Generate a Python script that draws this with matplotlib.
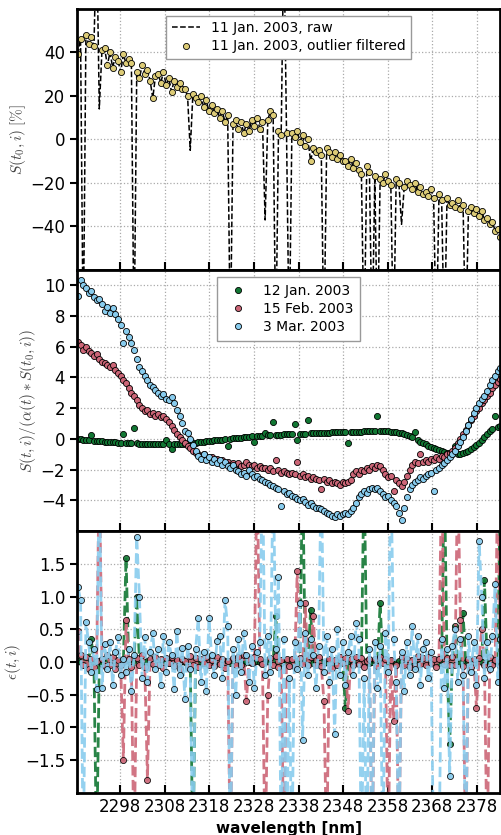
import numpy as np
import matplotlib
matplotlib.use('Agg')
import matplotlib.pyplot as plt

plt.rcParams['mathtext.fontset'] = 'cm'

# wavelength grid of the detector pixels
wavelength = 2288.5 + 0.6 * np.arange(160)

# 11 Jan. 2003, raw signal [%] (outliers included)
raw_jan11 = [
    39, 46, -95, 48, 44, 47, 43, 95, 14, 41,
    42, 34, 40, 33, 38, 36, 31, 39, 35, 37,
    35, -95, 31, 28, 34, 30, 32, 27, 19, 29,
    30, 26, 31, 25, 28, 22, 27, 24, 26, 23,
    23, 20, -5, 21, 19, 17, 20, 15, 18, 13,
    16, 12, 14, 10, 13, 8, 11, -95, 7, 9,
    5, 8, 3, 7, 4, 9, 6, 10, 5, 8,
    -37, 9, 13, 11, -95, 4, 2, 95, 3, -95,
    3, 1, 4, -1, 2, -3, 0, -10, -4, -6,
    -5, -7, -95, -4, -6, -8, -6, -9, -7, -10,
    -10, -12, -9, -13, -11, -14, -16, -95, -12, -15,
    -95, -17, -95, -18, -20, -16, -19, -21, -95, -18,
    -20, -39, -22, -19, -21, -23, -20, -24, -22, -25,
    -24, -26, -23, -27, -95, -25, -28, -95, -27, -30,
    -29, -31, -28, -32, -30, -95, -33, -31, -34, -32,
    -35, -33, -37, -36, -39, -38, -42, -41, -45, -47,
]
outlier_idx = [2, 7, 8, 21, 42, 57, 70, 74, 77, 79, 92, 107,
               110, 112, 118, 121, 134, 137, 145]

# S(t,i) / (alpha(t) * S(t0,i))
ratio_jan12 = [
    0.0, -0.02, -0.05, -0.07, -0.1, 0.26, -0.12, -0.14, -0.15, -0.17,
    -0.18, -0.2, -0.21, -0.22, -0.24, -0.25, -0.26, 0.3, -0.27, -0.28,
    -0.29, 0.7, -0.3, -0.31, -0.32, -0.33, -0.33, -0.34, -0.34, -0.35,
    -0.35, -0.35, -0.35, -0.07, -0.35, -0.65, -0.34, -0.34, -0.33, -0.32,
    -0.31, -0.3, -0.29, -0.27, -0.25, -0.23, -0.21, -0.19, -0.17, -0.15,
    -0.13, -0.11, -0.09, -0.07, -0.05, -0.03, -0.47, 0.0, 0.02, 0.04,
    0.06, 0.08, 0.1, 0.12, 0.13, 0.15, -0.22, 0.17, 0.18, 0.2,
    0.4, 0.22, 0.23, 1.1, 0.25, 0.26, 0.27, 0.28, 0.29, 0.3,
    0.31, 0.93, -0.05, 0.32, 0.33, 0.34, 1.2, 0.35, 0.36, 0.37,
    0.38, 0.38, 0.39, 0.4, 0.4, 0.41, 0.42, 0.42, 0.43, 0.43,
    0.44, -0.3, 0.45, 0.45, 0.46, 0.47, 0.47, 0.48, 0.48, 0.49,
    0.5, 0.5, 1.46, 0.51, 0.5, 0.5, 0.49, 0.47, 0.45, 0.42,
    0.4, 0.36, 0.31, 0.25, 0.18, 0.1, 0.45, -0.1, -0.2, -0.28,
    -0.36, -0.44, -0.52, -0.6, -0.67, -0.74, -0.8, -0.86, -0.91, -0.95,
    -0.97, -0.47, -0.98, -0.96, -0.92, -0.86, -0.78, -0.68, -0.56, -0.42,
    -0.26, -0.08, 0.12, 0.32, 0.5, 0.64, 1.5, 0.78, 0.82, 0.84,
]
ratio_feb15 = [
    6.3, 6.1, 5.8, 6.0, 5.7, 5.6, 5.4, 5.5, 5.2, 5.0,
    4.9, 4.8, 4.7, 4.8, 4.5, 4.3, 4.1, 3.8, 3.6, 3.3,
    3.0, 2.8, 2.5, 2.2, 2.0, 1.8, 1.9, 1.6, 1.7, 1.5,
    1.6, 1.4, 1.5, 1.3, 1.1, 0.8, 0.6, 0.3, 0.1, -0.1,
    -0.3, -0.5, -0.6, -0.8, -0.9, -1.0, -1.1, -1.0, -1.2, -1.3,
    -1.2, -1.4, -1.3, -1.5, -1.4, -1.6, -1.5, -1.7, -1.6, -1.7,
    -1.6, -1.8, -1.7, -1.5, -1.7, -1.8, -1.7, -1.9, -1.8, -1.9,
    -1.9, -2.0, -1.9, -2.1, -1.4, -2.0, -2.2, -2.1, -2.2, -2.3,
    -2.2, -2.3, -1.5, -2.4, -2.3, -2.5, -2.4, -2.6, -2.5, -2.6,
    -2.7, -3.3, -2.6, -2.8, -2.7, -2.9, -2.8, -2.9, -3.0, -2.8,
    -2.9, -2.8, -2.7, -2.3, -2.1, -2.3, -2.0, -2.1, -1.9, -2.0,
    -1.8, -1.9, -1.7, -1.8, -2.0, -2.3, -2.5, -2.4, -3.4, -2.7,
    -2.9, -3.1, -2.8, -2.4, -2.0, -1.7, -1.5, -1.6, -1.0, -1.5,
    -1.4, -1.5, -1.3, -1.4, -1.2, -1.3, -1.1, -1.2, -1.0, -0.9,
    -0.8, -0.6, -0.3, 0.0, 0.3, 0.6, 0.9, 1.2, 1.5, 1.8,
    2.0, 2.3, 2.5, 2.8, 3.0, 3.3, 3.5, 3.7, 3.9, 4.0,
]
ratio_mar03 = [
    9.3, 10.3, 10.0, 9.8, 9.5, 9.6, 9.2, 9.0, 9.1, 8.8,
    8.3, 8.6, 8.2, 8.5, 8.1, 7.8, 7.4, 6.2, 7.0, 6.6,
    6.2, 5.8, 5.2, 4.7, 4.4, 4.1, 3.8, 3.5, 3.4, 3.2,
    3.0, 2.8, 2.9, 2.6, 2.5, 2.7, 2.3, 1.9, 1.5, 1.0,
    0.5, 0.37, 0.0, -0.4, -0.8, -1.1, -1.3, -1.0, -1.4, -1.2,
    -1.5, -1.3, -1.6, -1.4, -1.7, -1.5, -1.8, -1.9, -1.7, -2.0,
    -2.1, -2.3, -2.2, -2.4, -2.0, -2.3, -2.5, -2.4, -2.6, -2.7,
    -2.8, -2.9, -3.0, -3.1, -3.2, -3.3, -4.4, -3.4, -3.6, -3.5,
    -3.7, -3.8, -3.9, -4.0, -3.9, -4.1, -4.3, -4.2, -4.4, -4.5,
    -4.5, -4.6, -4.7, -4.8, -4.9, -5.0, -5.1, -4.9, -5.0, -4.9,
    -4.8, -4.9, -4.7, -4.5, -4.2, -3.8, -3.6, -3.4, -3.5, -3.3,
    -3.2, -3.3, -3.2, -3.4, -3.6, -3.8, -3.7, -4.0, -4.2, -4.4,
    -4.8, -5.3, -4.5, -3.8, -3.3, -3.0, -2.8, -2.7, -2.5, -2.6,
    -2.4, -2.3, -2.2, -3.4, -2.0, -1.9, -1.7, -1.6, -1.4, -1.2,
    -1.0, -0.8, -0.5, -0.2, 0.1, 0.5, 0.9, 1.3, 1.7, 2.0,
    2.3, 2.6, 2.8, 3.1, 3.5, 3.8, 4.1, 4.4, 4.6, 4.8,
]

# residuals epsilon(t,i)
eps_jan12 = [
    0.02, 0.0, -0.05, 0.03, 0.0, 0.35, -0.02, -3.0, 0.01, -0.03,
    0.0, 0.02, -0.01, 0.03, 0.0, -0.02, 0.01, 0.0, 1.6, 0.02,
    -0.01, 0.0, 1.0, 0.02, -0.02, 0.0, 0.01, -0.01, 0.03, 0.0,
    0.02, -0.01, 0.0, 0.01, -0.02, 0.0, 0.03, -0.01, 0.0, 0.02,
    0.0, -0.01, 0.02, -3.0, 0.01, 0.0, -0.02, 0.01, 0.0, 0.02,
    -0.01, 0.0, 0.02, 0.0, -0.01, 0.01, 0.0, -0.02, 0.01, 0.0,
    0.02, 0.0, -0.01, 0.01, 0.0, -0.02, 0.0, 0.01, 0.0, -0.01,
    0.0, 0.02, 0.0, 0.01, 0.7, 0.0, -0.01, 0.02, 0.0, 0.01,
    -0.02, 0.0, 0.01, 0.0, 3.0, 0.02, 0.0, 0.8, -0.01, 0.0,
    0.01, 0.0, -0.02, 0.0, 0.01, 0.0, -0.01, 0.02, 0.0, 0.0,
    -0.7, 0.01, 0.0, -0.01, 0.0, 0.02, 0.0, 3.0, 0.0, -0.01,
    0.0, 0.01, 0.0, 0.9, 0.0, -0.02, 0.0, 0.01, 0.0, -0.01,
    0.02, 0.0, -0.01, 0.0, 0.01, 0.0, 0.02, -0.01, 0.0, 0.01,
    0.0, -0.02, 0.0, 0.01, 0.0, -0.01, 0.02, 3.0, 0.0, -1.25,
    0.0, 0.55, 0.0, -0.01, 0.75, 0.0, 0.02, 0.0, -0.01, 0.0,
    0.01, 0.0, 1.25, 0.0, -0.02, 0.0, 0.01, 0.0, 3.0, 0.0,
]
eps_feb15 = [
    0.48, 0.1, -0.05, 0.08, -0.1, 0.05, -0.08, 0.02, 3.0, 0.05,
    -0.06, 0.1, -0.04, 0.07, -0.1, 0.03, -0.05, -1.5, 0.65, 0.05,
    -0.08, -3.0, 0.06, -0.04, 0.1, -0.07, -1.8, 0.05, -0.03, 0.08,
    -0.05, 0.04, -0.09, 0.06, -0.02, 0.08, -0.06, 0.03, -0.1, 0.05,
    0.02, -0.07, 0.09, -0.04, 0.06, -0.08, 0.04, -0.02, 0.07, -0.05,
    0.03, -0.06, 0.08, -0.03, 0.05, -0.09, 0.02, -3.0, 0.06, -0.04,
    0.07, -0.05, 0.1, -0.6, 0.04, -0.02, 0.08, 3.0, 0.05, -0.03,
    -3.0, -0.5, 0.06, -0.04, 0.09, -0.07, 0.03, -3.0, 0.05, -0.06,
    0.04, -0.08, 1.4, 0.06, -0.03, 0.9, -0.05, 0.07, 0.7, -0.04,
    0.08, -0.06, -0.6, -3.0, 0.05, -0.09, 0.03, -0.04, 0.07, -0.02,
    0.06, -0.75, 0.04, -0.05, 0.08, -0.03, 0.06, -0.07, 0.02, 0.05,
    -3.0, 0.04, -0.06, 0.08, -0.02, 0.05, -3.0, 0.03, -0.9, -0.05,
    -3.0, 0.07, -0.04, 0.05, -0.08, 0.03, -0.06, 0.09, -0.03, 0.06,
    -0.05, 0.08, -0.02, 0.04, -0.07, 0.05, 3.0, -0.03, 0.06, -0.04,
    0.07, -0.05, 3.0, 0.65, -0.06, -3.0, 0.04, -0.08, 0.05, -0.7,
    0.06, 0.5, -0.04, -3.0, 0.07, -0.05, 0.03, 3.0, -0.06, 0.04,
]
eps_mar03 = [
    1.15, 0.95, -3.0, 0.62, 0.3, -0.15, 0.2, -0.42, 3.0, -0.4,
    0.28, -0.1, 0.3, -0.35, 0.15, 0.38, -0.2, 0.05, -0.15, 0.2,
    -0.45, 0.1, 1.92, 1.0, -0.25, 0.38, -0.3, 0.15, 0.45, -0.1,
    0.2, -0.35, 0.4, -0.15, 0.3, 0.1, -0.42, 0.48, -0.2, 0.22,
    -0.56, 0.25, -0.1, -3.0, 0.2, 0.67, -0.3, 0.15, -0.45, 0.67,
    0.1, -0.2, 0.32, 0.4, -0.25, 0.95, 0.55, -3.0, 0.2, -0.5,
    0.35, -0.15, 0.45, 0.1, -0.3, 0.25, -0.4, 0.15, 0.3, 3.0,
    -0.2, 0.4, -0.15, 3.0, 0.2, 1.3, -3.0, 0.35, -3.0, -0.25,
    -3.0, 0.3, -0.1, 0.9, -1.2, 0.45, -0.2, 0.35, 0.1, -0.4,
    0.25, 3.0, -0.15, 0.4, -0.3, 0.2, -1.1, 0.5, -0.2, 0.3,
    -0.35, 0.15, 0.4, -0.2, 0.6, 0.35, -3.0, -0.25, -3.0, 0.2,
    -3.0, 0.3, -0.4, 0.25, -3.0, 0.45, -0.15, 3.0, 0.35, -0.3,
    -3.0, 0.15, -0.45, 0.3, -0.2, 0.55, -0.1, 0.4, -0.35, 0.2,
    0.3, -0.25, 0.15, -3.0, -3.0, -3.0, 0.35, -0.4, 0.2, -1.75,
    0.25, 0.5, -0.3, 0.35, -0.2, -3.0, 0.4, -0.15, 0.3, -0.35,
    1.85, 1.0, -0.25, 0.3, -0.1, 0.4, 1.2, -0.3, 0.35, 0.2,
]

labels = ['12 Jan. 2003', '15 Feb. 2003', '3 Mar. 2003']
colors = ['#117733', '#CC6677', '#88CCEE']
sand = '#DDCC77'

raw_jan11 = np.array(raw_jan11, dtype=float)
good = ~np.isin(np.arange(len(raw_jan11)), outlier_idx)

fig = plt.figure(figsize=(5.01, 8.35), dpi=100)
left, width, h = 0.1537, 0.8453, 0.3129
ax1 = fig.add_axes([left, 0.6766, width, h])
ax2 = fig.add_axes([left, 0.3641, width, h], sharex=ax1)
ax3 = fig.add_axes([left, 0.0507, width, h], sharex=ax1)

# top: raw vs filtered
ax1.plot(wavelength, raw_jan11, '--', color='k', lw=1.1, label='11 Jan. 2003, raw')
ax1.plot(wavelength[good], raw_jan11[good], 'o', color=sand, mec='k', mew=0.6,
         ms=4.4, label='11 Jan. 2003, outlier filtered')
ax1.set_ylim(-60, 60)
ax1.set_yticks([-40, -20, 0, 20, 40])
ax1.set_ylabel(r'$S(t_0,i)\ [\%]$', fontsize=11, color='#444444')
ax1.yaxis.set_label_coords(-0.115, 0.5)
ax1.legend(loc='upper center', fontsize=10, numpoints=1, fancybox=False,
           edgecolor='#999999', framealpha=1, borderpad=0.4, labelspacing=0.3)

# middle: ratios
for vals, c, lab in zip([ratio_jan12, ratio_feb15, ratio_mar03], colors, labels):
    ax2.plot(wavelength, vals, 'o', color=c, mec='k', mew=0.6, ms=4.4, label=lab)
ax2.set_ylim(-6, 11)
ax2.set_yticks(np.arange(-4, 11, 2))
ax2.set_ylabel(r'$S(t,i)/(\alpha(t)*S(t_0,i))$', fontsize=11, color='#444444')
ax2.yaxis.set_label_coords(-0.092, 0.5)
ax2.legend(loc='upper center', fontsize=10, numpoints=1, fancybox=False,
           edgecolor='#999999', framealpha=1, borderpad=0.5, labelspacing=0.3)

# bottom: residuals
for vals, c in zip([eps_jan12, eps_feb15, eps_mar03], colors):
    ax3.plot(wavelength, vals, '--o', color=c, lw=2, alpha=0.9, mfc=c,
             mec='k', mew=0.6, ms=4.4)
ax3.set_ylim(-2, 2)
ax3.set_yticks(np.arange(-1.5, 1.6, 0.5))
ax3.set_ylabel(r'$\epsilon(t,i)$', fontsize=11, color='#444444')
ax3.yaxis.set_label_coords(-0.128, 0.5)
ax3.set_xlim(2288.3, 2383.3)
ax3.set_xticks(np.arange(2298, 2379, 10))
ax3.set_xlabel('wavelength [nm]', fontsize=11, fontweight='bold')

for ax in [ax1, ax2, ax3]:
    ax.grid(True, linestyle=':', color='#aaaaaa', lw=0.9)
    ax.set_axisbelow(True)
    for s in ax.spines.values():
        s.set_linewidth(2)
    ax.tick_params(axis='x', direction='in', length=6, width=1.5, labelsize=12)
    ax.tick_params(axis='y', direction='out', length=5, width=1.5, labelsize=12)
ax1.tick_params(axis='x', labelbottom=False)
ax2.tick_params(axis='x', labelbottom=False)

fig.savefig('out.png', dpi=100)
